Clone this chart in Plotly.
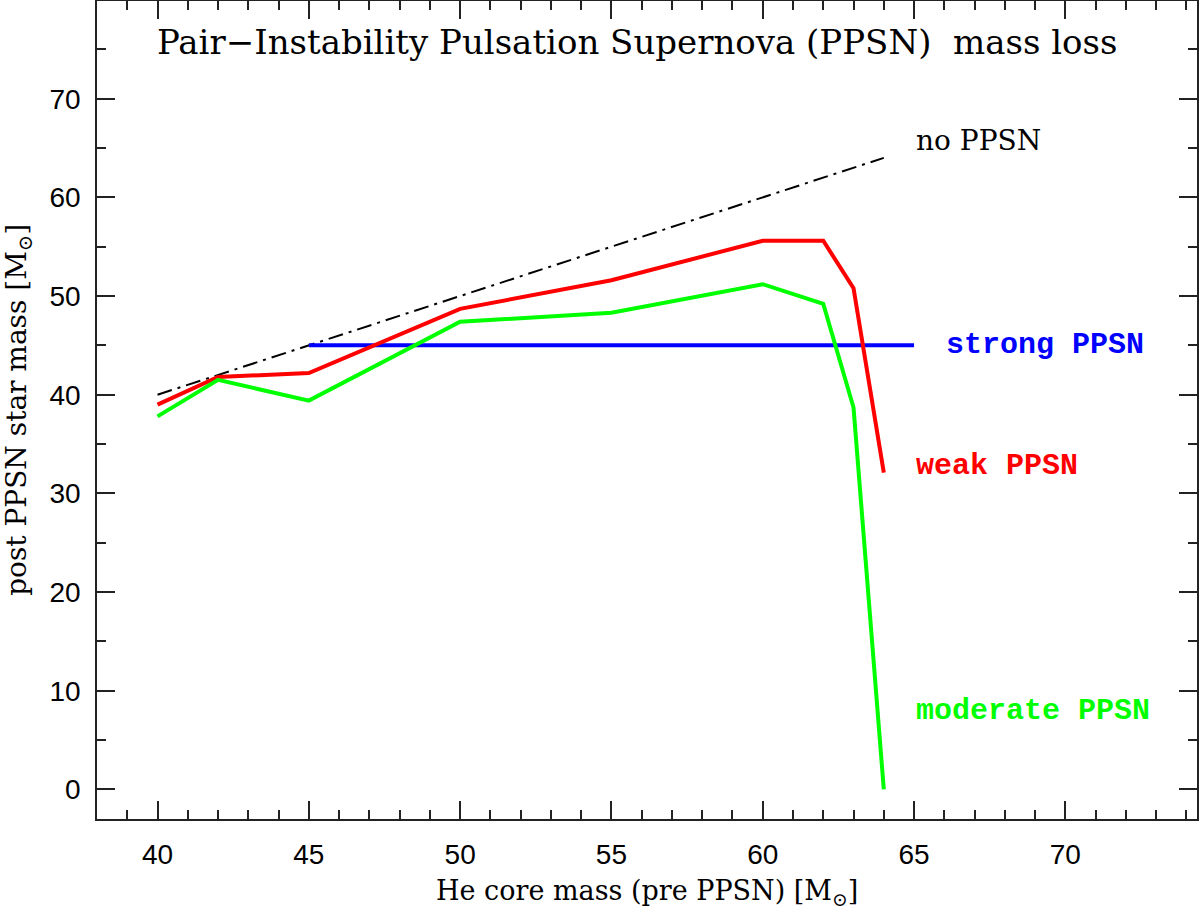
import plotly.graph_objects as go

# masas del nucleo de He (pre PPSN)
masa_he = [40, 42, 45, 50, 55, 60, 62, 63, 64]
masa_debil = [39.0, 41.8, 42.2, 48.7, 51.6, 55.6, 55.6, 50.8, 32.1]
masa_moderada = [37.8, 41.5, 39.4, 47.4, 48.3, 51.2, 49.2, 38.7, 0.0]

sin_ppsn_x = [40, 64]
sin_ppsn_y = [40, 64]

fuerte_x = [45, 65]
fuerte_y = [45, 45]

serif = "DejaVu Serif"
mono = "Liberation Mono"
sans = "Liberation Sans"

fig = go.Figure()

fig.add_trace(go.Scatter(x=sin_ppsn_x, y=sin_ppsn_y, mode="lines",
                         line=dict(color="black", width=2, dash="15px,6px,3px,6px")))
fig.add_trace(go.Scatter(x=fuerte_x, y=fuerte_y, mode="lines",
                         line=dict(color="#0000ff", width=4)))
fig.add_trace(go.Scatter(x=masa_he, y=masa_debil, mode="lines",
                         line=dict(color="#ff0000", width=4)))
fig.add_trace(go.Scatter(x=masa_he, y=masa_moderada, mode="lines",
                         line=dict(color="#00ff00", width=4)))

# etiquetas de las curvas
fig.add_annotation(x=65.0, y=65.8, text="no PPSN", xanchor="left", yanchor="middle",
                   showarrow=False, font=dict(family=serif, size=28, color="black"))
etiquetas = [
    ("strong PPSN", 66.0, 45.0, "#0000ff"),
    ("weak PPSN", 65.0, 32.8, "#ff0000"),
    ("moderate PPSN", 65.0, 7.9, "#00ff00"),
]
for txt, x, y, col in etiquetas:
    fig.add_annotation(x=x, y=y, text=f"<b>{txt}</b>", xanchor="left", yanchor="middle",
                       showarrow=False, font=dict(family=mono, size=30, color=col))

fig.add_annotation(x=0.491, y=0.95, xref="paper", yref="paper",
                   text="Pair\u2212Instability Pulsation Supernova (PPSN)\u00a0 mass loss",
                   showarrow=False, xanchor="center", yanchor="middle",
                   font=dict(family=serif, size=34, color="black"))
fig.add_annotation(x=0.5, y=-0.09, xref="paper", yref="paper",
                   text="He core mass (pre PPSN) [M<sub>\u2299</sub>]",
                   showarrow=False, xanchor="center", yanchor="middle",
                   font=dict(family=serif, size=27, color="black"))
fig.add_annotation(x=-0.072, y=0.5, xref="paper", yref="paper",
                   text="post PPSN star mass [M<sub>\u2299</sub>]", textangle=-90,
                   showarrow=False, xanchor="center", yanchor="middle",
                   font=dict(family=serif, size=28, color="black"))

eje = dict(showgrid=False, zeroline=False, showline=True, linecolor="#222",
           linewidth=1.5, mirror="allticks", ticks="inside", ticklen=18,
           tickwidth=1.5, tickcolor="#222", automargin=False,
           tickfont=dict(family=sans, size=28, color="black"))

fig.update_xaxes(range=[38, 74.35], tick0=40, dtick=5,
                 minor=dict(dtick=1, ticklen=9, tickwidth=1.5, tickcolor="#222", ticks="inside"),
                 ticklabelstandoff=10, **eje)
fig.update_yaxes(range=[-3, 79.9], tick0=0, dtick=10,
                 minor=dict(dtick=5, ticklen=9, tickwidth=1.5, tickcolor="#222", ticks="inside"),
                 ticklabelstandoff=9, **eje)

fig.update_layout(width=1200, height=913, showlegend=False,
                  plot_bgcolor="white", paper_bgcolor="white",
                  margin=dict(l=97, r=3, t=1, b=94))

# sin margen del body para que la figura llene la ventana
fig.write_html("out.html", config={"displayModeBar": False},
               post_script="document.body.style.margin='0';")
